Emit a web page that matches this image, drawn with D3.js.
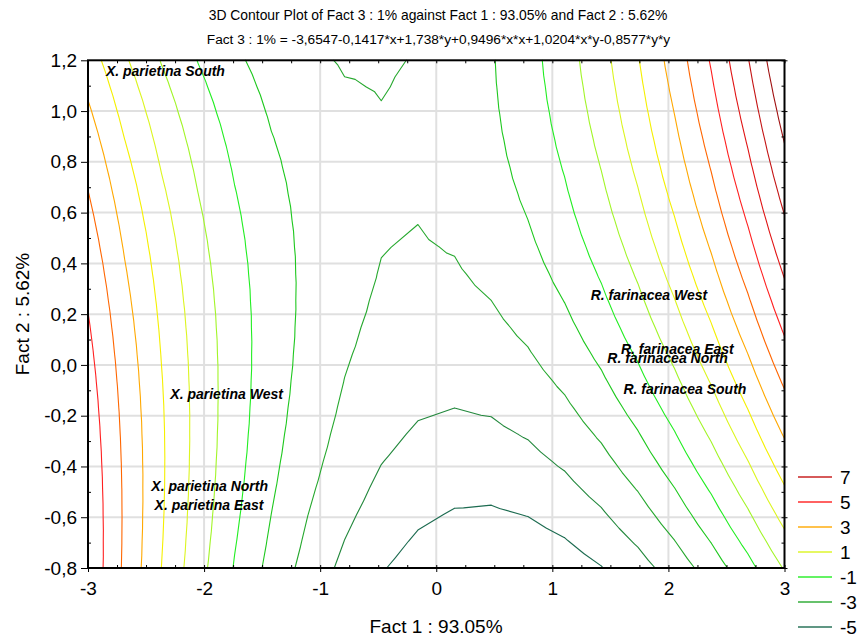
<!DOCTYPE html>
<html>
<head>
<meta charset="utf-8">
<title>3D Contour Plot of Fact 3</title>
<script src="https://cdn.jsdelivr.net/npm/d3@7"></script>
<style>
  body { margin: 0; background: #fff; }
  svg { font-family: "Liberation Sans", Arial, sans-serif; }
  .axis text { fill: #000; }
  .axis line { stroke: #000; }
  .axis path { display: none; }
</style>
</head>
<body>
<div id="chart"></div>
<script>
// fitted surface from the subtitle:
// z = c0 + c1*x + c2*y + c3*x*x + c4*x*y + c5*y*y
var coefs = [-3.6547, -0.1417, 1.738, 0.9496, 1.0204, -0.8577];

var xDomain = [-3, 3];
var yDomain = [-0.8, 1.2];
var gridCols = 20, gridRows = 20;   // coarse evaluation grid, gives the jagged lines

var levels = [-5, -4, -3, -2, -1, 0, 1, 2, 3, 4, 5, 6, 7, 8];
var levelColors = ["#1c6b50", "#22883c", "#26a82e", "#1ec81e", "#22ee22", "#a2f528", "#dcf520",
                   "#f5f000", "#ffa800", "#ff6600", "#ff2020", "#e01414", "#c41414", "#a01010"];
var legendLevels = [7, 5, 3, 1, -1, -3, -5];

var xTicks = [-3, -2, -1, 0, 1, 2, 3];
var yTicks = [-0.8, -0.6, -0.4, -0.2, 0, 0.2, 0.4, 0.6, 0.8, 1.0, 1.2];

// point labels (centre of the label, baseline)
var pointNames = ["X. parietina South", "X. parietina West", "X. parietina North", "X. parietina East",
                  "R. farinacea West", "R. farinacea East", "R. farinacea North", "R. farinacea South"];
var pointX = [-2.333, -1.806, -1.952, -1.957, 1.832, 2.077, 1.993, 2.142];
var pointY = [1.137, -0.135, -0.497, -0.572, 0.255, 0.043, 0.007, -0.115];

var title1 = "3D Contour Plot of Fact 3 : 1% against Fact 1 : 93.05% and Fact 2 : 5.62%";
var title2 = "Fact 3 : 1% = -3,6547-0,1417*x+1,738*y+0,9496*x*x+1,0204*x*y-0,8577*y*y";
var xTitle = "Fact 1 : 93.05%";
var yTitle = "Fact 2 : 5.62%";

var W = 857, H = 637;
var svg = d3.select("#chart").append("svg").attr("width", W).attr("height", H);

var x = d3.scaleLinear().domain(xDomain).range([88, 784.5]);
var y = d3.scaleLinear().domain(yDomain).range([568, 60.3]);

function fmtY(v) { return d3.format(".1f")(v).replace(".", ",").replace("\u2212", "-"); }
function fmtX(v) { return d3.format("d")(v).replace("\u2212", "-"); }

// grid
svg.append("g").selectAll("line").data(xTicks.slice(1, -1)).join("line")
  .attr("x1", d => x(d)).attr("x2", d => x(d)).attr("y1", y(yDomain[0])).attr("y2", y(yDomain[1]))
  .attr("stroke", "#e0e0e0").attr("stroke-width", 2);
svg.append("g").selectAll("line").data(yTicks.slice(1, -1)).join("line")
  .attr("y1", d => y(d)).attr("y2", d => y(d)).attr("x1", x(xDomain[0])).attr("x2", x(xDomain[1]))
  .attr("stroke", "#e0e0e0").attr("stroke-width", 2);

// evaluate the surface on the grid
function surf(px, py) {
  return coefs[0] + coefs[1] * px + coefs[2] * py + coefs[3] * px * px + coefs[4] * px * py + coefs[5] * py * py;
}
var gx = d3.range(gridCols).map(i => xDomain[0] + i * (xDomain[1] - xDomain[0]) / (gridCols - 1));
var gy = d3.range(gridRows).map(j => yDomain[0] + j * (yDomain[1] - yDomain[0]) / (gridRows - 1));
var zg = gy.map(py => gx.map(px => surf(px, py)));

// each cell split in two triangles along the lower-left / upper-right diagonal
function levelSegments(level) {
  var segs = [];
  for (var j = 0; j < gridRows - 1; j++) {
    for (var i = 0; i < gridCols - 1; i++) {
      var a = [gx[i], gy[j], zg[j][i]];
      var b = [gx[i + 1], gy[j], zg[j][i + 1]];
      var c = [gx[i + 1], gy[j + 1], zg[j + 1][i + 1]];
      var d = [gx[i], gy[j + 1], zg[j + 1][i]];
      [[a, b, c], [a, c, d]].forEach(function(tri) {
        var pts = [];
        for (var e = 0; e < 3; e++) {
          var p = tri[e], q = tri[(e + 1) % 3];
          if ((p[2] - level) * (q[2] - level) < 0) {
            var t = (level - p[2]) / (q[2] - p[2]);
            pts.push([p[0] + t * (q[0] - p[0]), p[1] + t * (q[1] - p[1])]);
          }
        }
        if (pts.length === 2) segs.push(pts);
      });
    }
  }
  return segs;
}

var line = d3.line().x(d => x(d[0])).y(d => y(d[1]));

svg.append("g").selectAll("path").data(levels).join("path")
  .attr("d", lv => levelSegments(lv).map(s => line(s)).join(""))
  .attr("fill", "none")
  .attr("stroke", (lv, i) => levelColors[i])
  .attr("stroke-width", 1.1)
  .attr("stroke-linecap", "round");

// axes
var xMinor = d3.range(-3, 3.001, 0.25).filter(v => Math.abs(v - Math.round(v)) > 1e-6);
var yMinor = d3.range(-0.8, 1.201, 0.1).filter(v => Math.abs(v * 5 - Math.round(v * 5)) > 1e-6);

svg.append("g").attr("class", "axis").attr("transform", "translate(0," + y(yDomain[0]) + ")")
  .call(d3.axisBottom(x).tickValues(xTicks).tickFormat(fmtX).tickSize(4).tickPadding(9.5))
  .call(g => g.selectAll("text").attr("font-size", 19));
svg.append("g").attr("class", "axis").attr("transform", "translate(0," + y(yDomain[0]) + ")")
  .call(d3.axisTop(x).tickValues(xTicks.concat(xMinor)).tickFormat("").tickSize(3));

svg.append("g").attr("class", "axis").attr("transform", "translate(0," + y(yDomain[1]) + ")")
  .call(d3.axisBottom(x).tickValues(xTicks.concat(xMinor)).tickFormat("").tickSize(3));

svg.append("g").attr("class", "axis").attr("transform", "translate(" + x(xDomain[0]) + ",0)")
  .call(d3.axisLeft(y).tickValues(yTicks).tickFormat(fmtY).tickSize(7).tickPadding(4))
  .call(g => g.selectAll("text").attr("font-size", 19));
svg.append("g").attr("class", "axis").attr("transform", "translate(" + x(xDomain[0]) + ",0)")
  .call(d3.axisRight(y).tickValues(yMinor).tickFormat("").tickSize(3));

svg.append("g").attr("class", "axis").attr("transform", "translate(" + x(xDomain[1]) + ",0)")
  .call(d3.axisLeft(y).tickValues(yTicks.concat(yMinor)).tickFormat("").tickSize(3));
svg.append("g").attr("class", "axis").attr("transform", "translate(" + x(xDomain[1]) + ",0)")
  .call(d3.axisRight(y).tickValues(yTicks).tickFormat("").tickSize(3));

// frame
svg.append("rect")
  .attr("x", x(xDomain[0])).attr("y", y(yDomain[1]))
  .attr("width", x(xDomain[1]) - x(xDomain[0])).attr("height", y(yDomain[0]) - y(yDomain[1]))
  .attr("fill", "none").attr("stroke", "#000").attr("stroke-width", 2);

// point labels
svg.append("g").selectAll("text").data(pointNames).join("text")
  .attr("x", (d, i) => x(pointX[i])).attr("y", (d, i) => y(pointY[i]))
  .attr("text-anchor", "middle")
  .attr("font-size", 14).attr("font-weight", "bold").attr("font-style", "italic")
  .text(d => d);

// titles
svg.append("text").attr("x", 438).attr("y", 20).attr("text-anchor", "middle")
  .attr("font-size", 13.9).text(title1);
svg.append("text").attr("x", 438.5).attr("y", 43.5).attr("text-anchor", "middle")
  .attr("font-size", 13.7).text(title2);
svg.append("text").attr("x", 436).attr("y", 633).attr("text-anchor", "middle")
  .attr("font-size", 19).text(xTitle);
svg.append("text").attr("transform", "translate(29,314) rotate(-90)").attr("text-anchor", "middle")
  .attr("font-size", 19).text(yTitle);

// legend
var leg = svg.append("g").selectAll("g").data(legendLevels).join("g")
  .attr("transform", (d, i) => "translate(0," + (477 + i * 25) + ")");
leg.append("line").attr("x1", 798).attr("x2", 832)
  .attr("stroke", d => levelColors[levels.indexOf(d)])
  .attr("stroke-width", 2).attr("stroke-opacity", 0.7);
leg.append("text").attr("x", 840).attr("dy", "0.36em").attr("font-size", 19)
  .text(d => fmtX(d));
</script>
</body>
</html>
